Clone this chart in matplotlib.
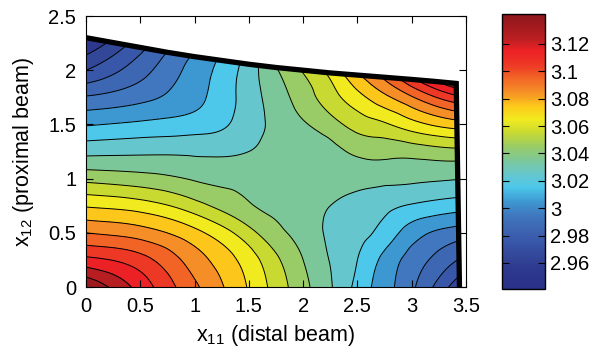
import numpy as np
import matplotlib
matplotlib.use("Agg")
import matplotlib.pyplot as plt
import matplotlib.tri as mtri
from matplotlib.colors import LinearSegmentedColormap, Normalize
from matplotlib.cm import ScalarMappable
from matplotlib.patches import Polygon

plt.rcParams['font.family'] = ['Liberation Sans', 'DejaVu Sans']
plt.rcParams['mathtext.fontset'] = 'custom'
plt.rcParams['mathtext.rm'] = 'Liberation Sans'
plt.rcParams['mathtext.it'] = 'Liberation Sans'

# field values on a grid (rows: y, columns: x)
x_grid = [0.0, 0.5, 1.0, 1.5, 1.75, 2.0, 2.25, 2.5, 2.75, 3.0, 3.5]
y_grid = [0.0, 0.25, 0.5, 0.75, 1.0, 1.25, 1.5, 1.75, 2.0, 2.25, 2.5]
z_y000 = [3.140, 3.116, 3.092, 3.069, 3.056, 3.043, 3.031, 3.017, 3.004, 2.992, 2.958]
z_y025 = [3.113, 3.104, 3.085, 3.065, 3.052, 3.040, 3.0295, 3.020, 3.007, 2.996, 2.977]
z_y050 = [3.090, 3.085, 3.073, 3.0535, 3.043, 3.036, 3.028, 3.023, 3.016, 3.005, 2.994]
z_y075 = [3.069, 3.065, 3.054, 3.041, 3.038, 3.035, 3.030, 3.027, 3.023, 3.019, 3.014]
z_y100 = [3.047, 3.044, 3.039, 3.037, 3.036, 3.035, 3.034, 3.033, 3.0327, 3.032, 3.030]
z_y125 = [3.027, 3.028, 3.028, 3.030, 3.035, 3.036, 3.037, 3.042, 3.0433, 3.044, 3.047]
z_y150 = [3.009, 3.012, 3.015, 3.025, 3.033, 3.039, 3.0457, 3.054, 3.0586, 3.066, 3.076]
z_y175 = [2.991, 2.997, 3.007, 3.025, 3.035, 3.045, 3.0557, 3.0665, 3.0775, 3.089, 3.110]
z_y200 = [2.970, 2.986, 3.004, 3.025, 3.039, 3.051, 3.064, 3.081, 3.097, 3.117, 3.150]
z_y225 = [2.952, 2.975, 2.998, 3.025, 3.048, 3.066, 3.085, 3.100, 3.118, 3.140, 3.185]
z_y250 = [2.930, 2.960, 2.990, 3.025, 3.055, 3.080, 3.100, 3.120, 3.142, 3.170, 3.220]

# feasible-region boundary
top_x = [0.0, 0.25, 0.5, 0.75, 1.0, 1.25, 1.5, 1.75, 2.0, 2.25, 2.5, 2.75, 3.0, 3.2, 3.41]
top_y = [2.30, 2.255, 2.21, 2.165, 2.125, 2.09, 2.055, 2.025, 2.0, 1.975, 1.955, 1.935, 1.915, 1.898, 1.878]
right_x = [3.41, 3.44]
right_y = [1.878, 0.0]

levels = np.round(np.arange(2.94, 3.1451, 0.01), 3)
cbar_ticks = [2.96, 2.98, 3.0, 3.02, 3.04, 3.06, 3.08, 3.1, 3.12]
zmin, zmax = 2.941, 3.142

# colours sampled from the colour bar
cmap_vals = [2.941, 2.955, 2.965, 2.975, 2.985, 2.995, 3.005, 3.015, 3.025, 3.035,
             3.045, 3.055, 3.065, 3.075, 3.085, 3.095, 3.105, 3.115, 3.125, 3.142]
cmap_cols = [(0.16, 0.19, 0.53), (0.18, 0.22, 0.56), (0.20, 0.28, 0.60), (0.22, 0.34, 0.66),
             (0.24, 0.40, 0.70), (0.25, 0.47, 0.75), (0.24, 0.60, 0.82), (0.30, 0.78, 0.92),
             (0.40, 0.78, 0.80), (0.49, 0.78, 0.60), (0.60, 0.80, 0.40), (0.78, 0.85, 0.20),
             (0.95, 0.92, 0.12), (0.99, 0.78, 0.10), (0.96, 0.56, 0.15), (0.95, 0.40, 0.15),
             (0.93, 0.22, 0.15), (0.93, 0.13, 0.15), (0.72, 0.12, 0.13), (0.55, 0.09, 0.11)]
pos = [(v - zmin) / (zmax - zmin) for v in cmap_vals]
cmap = LinearSegmentedColormap.from_list('jetish', list(zip(pos, cmap_cols)))
norm = Normalize(vmin=zmin, vmax=zmax)

Z = np.array([z_y000, z_y025, z_y050, z_y075, z_y100, z_y125,
              z_y150, z_y175, z_y200, z_y225, z_y250])
X, Y = np.meshgrid(x_grid, y_grid)
tri = mtri.Triangulation(X.ravel(), Y.ravel())
interp = mtri.CubicTriInterpolator(tri, Z.ravel(), kind='min_E')
tri_f, z_f = mtri.UniformTriRefiner(tri).refine_field(Z.ravel(), triinterpolator=interp, subdiv=4)

fig = plt.figure(figsize=(5.94, 3.55), dpi=100)
ax = fig.add_axes([0.1448, 0.1915, 0.6397, 0.7634])

region = Polygon([(0, 0)] + list(zip(right_x[::-1], right_y[::-1])) + list(zip(top_x[::-1], top_y[::-1])),
                 closed=True, transform=ax.transData, facecolor='none', edgecolor='none')
ax.add_patch(region)

cf = ax.tricontourf(tri_f, z_f, levels=levels, cmap=cmap, norm=norm)
cl = ax.tricontour(tri_f, z_f, levels=levels, colors='k', linewidths=0.7)
cf.set_clip_path(region)
cl.set_clip_path(region)

ax.plot(top_x + right_x[1:], top_y + right_y[1:], color='k', lw=3.8,
        solid_joinstyle='miter', solid_capstyle='butt', zorder=5)

ax.set_xlim(0, 3.5)
ax.set_ylim(0, 2.5)
xt = np.arange(0, 3.51, 0.5)
yt = np.arange(0, 2.51, 0.5)
ax.set_xticks(xt)
ax.set_yticks(yt)
ax.set_xticklabels(['%g' % v for v in xt])
ax.set_yticklabels(['%g' % v for v in yt])
ax.tick_params(direction='in', top=True, right=True, labelsize=14.5, length=5, pad=7)
ax.set_xlabel(r'x$_{\mathregular{11}}$ (distal beam)', fontsize=15.5, labelpad=5)
ax.set_ylabel(r'x$_{\mathregular{12}}$ (proximal beam)', fontsize=15.5, labelpad=9)

cax = fig.add_axes([0.845, 0.186, 0.0724, 0.775])
cb = fig.colorbar(ScalarMappable(norm=norm, cmap=cmap), cax=cax, ticks=cbar_ticks)
cb.ax.set_yticklabels(['%g' % t for t in cbar_ticks])
cb.ax.tick_params(direction='in', left=True, right=True, labelsize=14.5, length=5, pad=4)
cb.outline.set_linewidth(1.0)

fig.savefig('out.png', dpi=100)
